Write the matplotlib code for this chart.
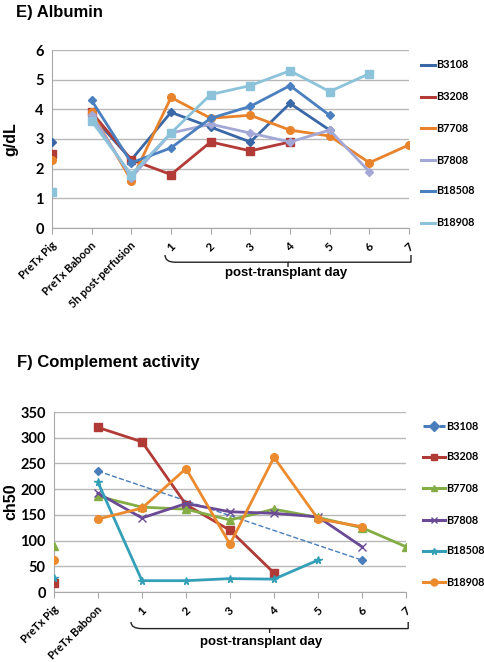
import numpy as np
import matplotlib
matplotlib.use("Agg")
import matplotlib.pyplot as plt
from matplotlib.path import Path
from matplotlib.patches import PathPatch
import matplotlib.transforms as mtransforms

# ───────────────────────────────
# Data
# ───────────────────────────────
nan = np.nan
series_names = ["B3108", "B3208", "B7708", "B7808", "B18508", "B18908"]

alb_labels = ["PreTx Pig", "PreTx Baboon", "5h post-perfusion", "1", "2", "3", "4", "5", "6", "7"]
alb_B3108 = [2.9, 3.8, 2.3, 3.9, 3.4, 2.9, 4.2, 3.3, nan, nan]
alb_B3208 = [2.5, 3.9, 2.3, 1.8, 2.9, 2.6, 2.9, nan, nan, nan]
alb_B7708 = [2.3, 3.9, 1.6, 4.4, 3.7, 3.8, 3.3, 3.1, 2.2, 2.8]
alb_B7808 = [nan, 3.8, 1.7, 3.2, 3.5, 3.2, 2.9, 3.3, 1.9, nan]
alb_B18508 = [nan, 4.3, 2.2, 2.7, 3.7, 4.1, 4.8, 3.8, nan, nan]
alb_B18908 = [1.2, 3.6, 1.8, 3.2, 4.5, 4.8, 5.3, 4.6, 5.2, nan]

ch_labels = ["PreTx Pig", "PreTx Baboon", "1", "2", "3", "4", "5", "6", "7"]
ch_B3108 = [nan, 235, nan, nan, nan, nan, nan, 62, nan]
ch_B3208 = [17, 320, 292, 170, 120, 37, nan, nan, nan]
ch_B7708 = [90, 186, 165, 161, 140, 161, 145, 125, 88]
ch_B7808 = [nan, 192, 144, 172, 156, 153, 146, 88, nan]
ch_B18508 = [28, 213, 22, 22, 26, 25, 62, nan, nan]
ch_B18908 = [62, 142, 163, 240, 93, 262, 142, 127, nan]

W, H = 485, 662
TICK_FONT = "Lato"
TITLE_FONT = "Liberation Sans"


def fig_rect(left, top, right, bottom):
    # pixel box (from top-left) -> figure fraction
    return [left / W, 1 - bottom / H, (right - left) / W, (bottom - top) / H]


def plot_series(ax, x, y, color, marker, ms=5, ls="-", lw=2.0):
    # pig value stands alone, the rest is one line (gaps connected, like Excel)
    y = np.asarray(y, dtype=float)
    kw = dict(color=color, marker=marker, ms=ms, mec=color, mfc=color, zorder=3)
    if not np.isnan(y[0]):
        ax.plot(x[:1], y[:1], ls="none", **kw)
    xs, ys = x[1:], y[1:]
    mask = ~np.isnan(ys)
    ax.plot(xs[mask], ys[mask], ls=ls, lw=lw, solid_joinstyle="round", **kw)


def style_axes(ax, ylim, yticks, labels, day_start):
    ax.set_ylim(*ylim)
    ax.set_xlim(0, len(labels) - 1)
    ax.set_yticks(yticks)
    ax.grid(axis="y", color="#b8b8b8", lw=1.0)
    ax.set_axisbelow(True)
    for s in ["top", "right"]:
        ax.spines[s].set_visible(False)
    ax.spines["left"].set_color("#a8a8a8")
    ax.spines["bottom"].set_color("#a8a8a8")
    ax.tick_params(axis="y", length=0, pad=6, labelsize=10.5)
    ax.tick_params(axis="x", length=4, color="#a8a8a8")
    for t in ax.get_yticklabels():
        t.set_fontfamily(TICK_FONT)
        t.set_fontweight("bold")
    x = np.arange(len(labels))
    ax.set_xticks(x)
    ax.set_xticklabels([])
    for i, lab in enumerate(labels):
        if i < day_start:
            trans = mtransforms.offset_copy(ax.get_xaxis_transform(), fig=ax.figure,
                                            x=2, y=-11, units="points")
            ax.text(i, 0, lab, transform=trans, rotation=45, ha="right", va="center",
                    fontsize=8, fontfamily=TICK_FONT, fontweight="bold", rotation_mode="anchor")
        else:
            trans = mtransforms.offset_copy(ax.get_xaxis_transform(), fig=ax.figure,
                                            x=0, y=-14, units="points")
            ax.text(i, 0, lab, transform=trans, rotation=45, ha="center", va="center",
                    fontsize=8.5, fontfamily=TICK_FONT, fontweight="bold")


def draw_brace(ax, x0, x1, ytop, ydepth):
    # curly brace below the axis, ends up, tip down (x in data, y in pixels below axis)
    tr = mtransforms.blended_transform_factory(ax.transData, ax.get_xaxis_transform())
    hb = ax.get_window_extent().height

    def yy(px):
        return -px / hb

    xm = (x0 + x1) / 2
    top = yy(ytop)
    mid = yy(ytop + ydepth * 0.6)
    tip = yy(ytop + ydepth)
    d = 0.25
    verts = [(x0, top), (x0, mid), (x0 + d, mid), (x0 + 2 * d, mid),
             (xm - 2 * d, mid), (xm - d, mid), (xm, mid), (xm, tip),
             (xm, mid), (xm + d, mid), (xm + 2 * d, mid),
             (x1 - 2 * d, mid), (x1 - d, mid), (x1, mid), (x1, top)]
    codes = [Path.MOVETO, Path.CURVE3, Path.CURVE3, Path.LINETO,
             Path.LINETO, Path.CURVE3, Path.CURVE3, Path.LINETO,
             Path.MOVETO, Path.CURVE3, Path.CURVE3,
             Path.LINETO, Path.CURVE3, Path.CURVE3, Path.LINETO]
    ax.add_patch(PathPatch(Path(verts, codes), transform=tr, fill=False, lw=1.0,
                           color="#222222", clip_on=False))


def legend_entries(fig, names, colors, markers, styles, x0, x1, ys):
    for name, c, m, ls, y in zip(names, colors, markers, styles, ys):
        yf = 1 - y / H
        fig.add_artist(plt.Line2D([x0 / W, x1 / W], [yf, yf], color=c, lw=2.2, ls=ls,
                                  transform=fig.transFigure))
        if m is not None:
            fig.add_artist(plt.Line2D([(x0 + x1) / 2 / W], [yf], color=c, marker=m, ms=5,
                                      transform=fig.transFigure))
        fig.text((x1 + 1) / W, yf, name, ha="left", va="center", fontsize=7.8,
                 fontfamily=TICK_FONT, fontweight="bold")


def place_ylabel(ax, text, x_px, left_px, width_px):
    # label's baseline side sits at x_px (pixels from figure left)
    ax.set_ylabel(text, fontsize=11.5, fontfamily=TITLE_FONT, fontweight="bold")
    ax.yaxis.set_label_coords((x_px - left_px) / width_px, 0.5)


fig = plt.figure(figsize=(W / 100, H / 100), dpi=100)

# ───────────────────────────────
# E) Albumin
# ───────────────────────────────
ax1 = fig.add_axes(fig_rect(52, 50, 409, 228))
xa = np.arange(len(alb_labels))
alb_colors = ["#3a67a6", "#b23b38", "#e9832b", "#a3a8d6", "#4a7fc0", "#8cc3da"]
alb_data = [alb_B3108, alb_B3208, alb_B7708, alb_B7808, alb_B18508, alb_B18908]
alb_markers = ["D", "s", "o", "D", "D", "s"]
for vals, c, m in zip(alb_data, alb_colors, alb_markers):
    plot_series(ax1, xa, vals, c, m, ms=4.5 if m == "D" else 5.5)
style_axes(ax1, (0, 6), range(0, 7), alb_labels, 3)
place_ylabel(ax1, "g/dL", 18, 52, 357)
draw_brace(ax1, 2.85, 9.05, 27, 12)
ax1.text(5.9, -0.255, "post-transplant day",
         transform=mtransforms.blended_transform_factory(ax1.transData, ax1.transAxes),
         ha="center", va="center", fontsize=9.5, fontfamily=TITLE_FONT, fontweight="bold")
fig.text(16 / W, 1 - 13 / H, "E) Albumin", ha="left", va="center", fontsize=12,
         fontfamily=TITLE_FONT, fontweight="bold")
legend_entries(fig, series_names, alb_colors, [None] * 6, ["-"] * 6, 421, 435,
               [65, 97, 128, 160, 191, 223])

# ───────────────────────────────
# F) Complement activity
# ───────────────────────────────
ax2 = fig.add_axes(fig_rect(54, 412, 406, 592))
xc = np.arange(len(ch_labels))
ch_colors = ["#4a7ebb", "#b03a36", "#84ad45", "#6a4a95", "#33a0b8", "#ec8a2e"]
ch_data = [ch_B3108, ch_B3208, ch_B7708, ch_B7808, ch_B18508, ch_B18908]
ch_markers = ["D", "s", "^", "x", "*", "o"]
ch_styles = ["--", "-", "-", "-", "-", "-"]
for vals, c, m, ls in zip(ch_data, ch_colors, ch_markers, ch_styles):
    plot_series(ax2, xc, vals, c, m, ms=5.5 if m != "D" else 4.5,
                ls=ls, lw=1.0 if ls == "--" else 2.0)
style_axes(ax2, (0, 350), range(0, 351, 50), ch_labels, 2)
place_ylabel(ax2, "ch50", 18, 54, 352)
draw_brace(ax2, 1.75, 8.05, 30, 11)
ax2.text(4.7, -0.28, "post-transplant day",
         transform=mtransforms.blended_transform_factory(ax2.transData, ax2.transAxes),
         ha="center", va="center", fontsize=9.5, fontfamily=TITLE_FONT, fontweight="bold")
fig.text(17 / W, 1 - 362 / H, "F) Complement activity", ha="left", va="center", fontsize=12,
         fontfamily=TITLE_FONT, fontweight="bold")
legend_entries(fig, series_names, ch_colors, ch_markers, ch_styles, 423, 445,
               [426, 457, 488, 520, 551, 582])

fig.savefig("out.png", dpi=100)
